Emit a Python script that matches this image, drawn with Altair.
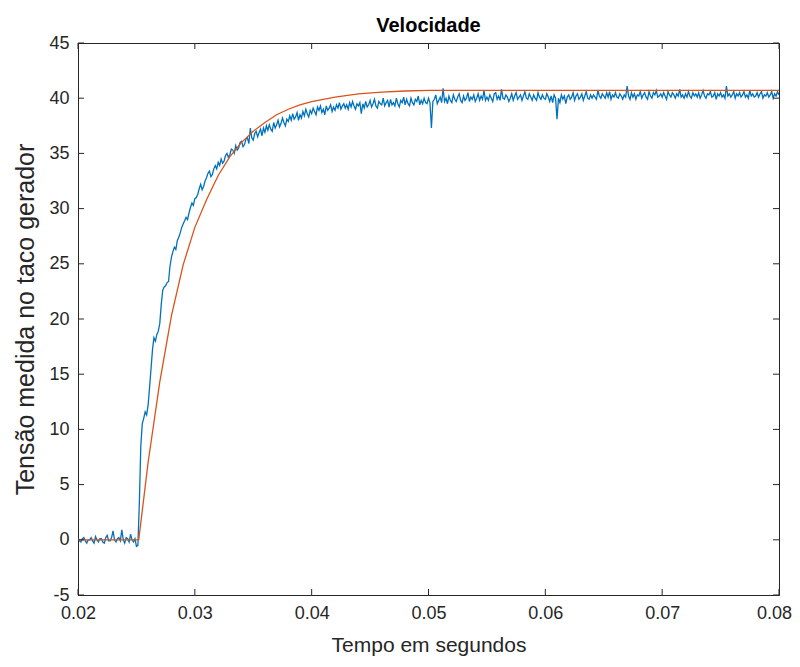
import altair as alt
import pandas as pd

# ---- data ----
t_start = 0.02
t_step = 0.000125
# measured tachogenerator voltage (blue), one value per 0.125 ms, rows = 1 ms
blue_values = [
    0.1, -0.1, -0.2, 0.1, 0.2, -0.1, -0.3, 0.0,          # 0.020
    0.0, 0.2, -0.1, -0.3, 0.3, 0.0, -0.2, 0.1,           # 0.021
    0.1, -0.2, -0.3, 0.2, 0.4, -0.1, -0.1, 0.2,          # 0.022
    0.8, 0.0, -0.2, 0.1, 0.2, -0.1, 0.9, 0.0,            # 0.023
    -0.3, 0.2, 0.1, -0.2, 0.5, 0.0, -0.2, 0.1,           # 0.024
    -0.6, -0.5, 3.3, 8.5, 10.5, 11.0, 11.6, 11.3,        # 0.025
    12.2, 13.8, 15.5, 17.2, 18.3, 18.0, 18.6, 18.9,      # 0.026
    19.6, 21.3, 22.6, 22.9, 23.0, 23.3, 23.4, 24.8,      # 0.027
    25.6, 26.1, 26.5, 26.3, 27.1, 27.4, 27.8, 28.3,      # 0.028
    28.6, 28.9, 29.2, 29.0, 29.6, 30.1, 30.5, 30.3,      # 0.029
    30.9, 31.0, 31.3, 31.8, 32.2, 31.7, 32.0, 32.5,      # 0.030
    32.8, 33.2, 33.4, 32.9, 33.1, 33.6, 33.9, 33.6,      # 0.031
    34.2, 33.9, 34.5, 34.1, 34.3, 34.8, 35.0, 34.6,      # 0.032
    34.9, 35.4, 35.3, 35.0, 35.7, 35.3, 35.5, 36.0,      # 0.033
    36.1, 35.6, 35.8, 36.3, 36.4, 35.9, 37.3, 36.4,      # 0.034
    36.2, 36.8, 37.0, 36.5, 36.9, 37.2, 36.6, 37.3,      # 0.035
    36.9, 37.5, 37.1, 37.6, 37.2, 37.0, 37.8, 37.3,      # 0.036
    37.6, 38.0, 37.4, 37.7, 38.2, 37.8, 37.5, 38.1,      # 0.037
    37.9, 38.4, 38.0, 38.6, 38.1, 38.3, 38.7, 38.0,      # 0.038
    38.5, 38.2, 38.8, 38.4, 39.0, 38.6, 38.3, 38.9,      # 0.039
    38.6, 39.1, 38.8, 38.5, 39.2, 38.9, 39.3, 38.7,      # 0.040
    39.0, 38.5, 39.3, 38.9, 39.1, 39.4, 38.8, 39.2,      # 0.041
    38.9, 39.4, 39.1, 39.6, 39.0, 39.3, 39.5, 39.1,      # 0.042
    39.4, 39.0, 39.6, 39.2, 39.7, 39.3, 39.0, 39.5,      # 0.043
    39.3, 39.6, 38.6, 39.5, 39.1, 39.7, 39.2, 39.4,      # 0.044
    39.8, 39.2, 39.5, 39.9, 39.3, 39.1, 39.7, 39.5,      # 0.045
    39.4, 40.0, 39.3, 39.6, 39.8, 39.2, 39.9, 39.4,      # 0.046
    39.6, 39.3, 40.0, 39.5, 39.2, 39.8, 39.6, 40.1,      # 0.047
    39.4, 39.9, 39.5, 39.3, 40.0, 39.6, 39.4, 39.9,      # 0.048
    39.7, 40.2, 39.4, 39.8, 39.5, 40.0, 39.6, 39.5,      # 0.049
    40.0, 39.6, 37.3, 39.7, 39.9, 40.3, 39.5, 39.8,      # 0.050
    40.1, 39.6, 40.9, 39.7, 40.0, 39.5, 40.2, 39.8,      # 0.051
    39.6, 40.3, 39.9, 39.7, 40.1, 40.4, 39.8, 39.6,      # 0.052
    40.2, 39.8, 40.0, 40.5, 39.7, 40.1, 39.9, 40.3,      # 0.053
    39.7, 40.0, 40.4, 39.8, 40.2, 39.9, 40.7, 39.8,      # 0.054
    40.1, 39.8, 40.3, 40.0, 39.7, 40.4, 40.5, 39.9,      # 0.055
    40.2, 39.8, 40.8, 40.0, 39.9, 40.3, 40.1, 39.7,      # 0.056
    40.0, 40.4, 39.8, 40.2, 40.5, 39.9, 40.1, 40.3,      # 0.057
    39.8, 40.2, 40.6, 40.0, 39.9, 40.4, 40.1, 39.8,      # 0.058
    40.3, 40.0, 39.8, 40.5, 40.1, 39.9, 40.3, 40.0,      # 0.059
    39.9, 40.4, 40.1, 39.7, 40.2, 39.6, 40.3, 40.0,      # 0.060
    38.1, 40.0, 39.6, 40.3, 39.9, 40.2, 39.5, 40.1,      # 0.061
    40.3, 39.9, 40.1, 40.5, 39.8, 40.2, 40.4, 39.9,      # 0.062
    40.1, 40.4, 39.8, 40.2, 40.6, 40.0, 39.9, 40.3,      # 0.063
    40.0, 40.3, 40.1, 39.9, 40.7, 40.2, 40.0, 40.4,      # 0.064
    40.2, 40.0, 40.5, 40.1, 40.6, 39.9, 40.3, 40.1,      # 0.065
    40.5, 40.1, 40.0, 40.4, 40.2, 39.9, 40.3, 40.1,      # 0.066
    41.1, 40.2, 39.9, 40.5, 40.1, 40.4, 39.9, 40.3,      # 0.067
    40.2, 40.6, 40.0, 40.3, 40.5, 40.1, 39.9, 40.6,      # 0.068
    40.2, 40.0, 40.5, 40.3, 40.7, 40.1, 40.2, 40.4,      # 0.069
    40.1, 40.5, 40.2, 39.9, 40.6, 40.3, 40.1, 40.5,      # 0.070
    40.3, 40.0, 40.4, 40.2, 40.8, 40.1, 40.3, 40.0,      # 0.071
    40.4, 40.1, 40.6, 40.2, 40.0, 40.5, 40.2, 40.4,      # 0.072
    40.1, 40.5, 40.0, 40.3, 40.7, 40.2, 40.0, 40.4,      # 0.073
    40.3, 40.6, 40.1, 40.2, 40.5, 39.9, 40.4, 40.2,      # 0.074
    40.5, 40.1, 40.3, 40.0, 41.1, 40.2, 40.4, 40.1,      # 0.075
    40.3, 40.6, 40.0, 40.4, 40.2, 40.5, 40.1, 40.3,      # 0.076
    40.6, 40.1, 40.3, 40.0, 40.7, 40.2, 40.4, 40.1,      # 0.077
    40.2, 40.5, 40.1, 40.4, 40.6, 40.0, 40.3, 40.2,      # 0.078
    40.5, 40.1, 40.3, 40.6, 40.0, 40.4, 40.2, 40.6,      # 0.079
    40.3,                                                # 0.080
]

# model response (orange)
orange_t = [0.0200, 0.0252, 0.0260, 0.0270, 0.0280, 0.0290, 0.0300, 0.0310,
            0.0320, 0.0330, 0.0340, 0.0350, 0.0360, 0.0370, 0.0380, 0.0390,
            0.0400, 0.0420, 0.0440, 0.0460, 0.0480, 0.0500, 0.0600, 0.0700,
            0.0800]
orange_v = [0.0, 0.0, 7.0, 14.3, 20.3, 24.9, 28.3, 30.8,
            33.0, 34.7, 36.0, 37.0, 37.8, 38.5, 39.0, 39.4,
            39.7, 40.1, 40.4, 40.55, 40.65, 40.7, 40.7, 40.7,
            40.7]

x_ticks = [0.02, 0.03, 0.04, 0.05, 0.06, 0.07, 0.08]
y_ticks = [-5, 0, 5, 10, 15, 20, 25, 30, 35, 40, 45]

# ---- tables ----
blue_t = [round(t_start + i * t_step, 6) for i in range(len(blue_values))]
df_blue = pd.DataFrame({"t": blue_t, "v": blue_values})
df_orange = pd.DataFrame({"t": orange_t, "v": orange_v})
df_xt = pd.DataFrame({"t": x_ticks})
df_yt = pd.DataFrame({"v": y_ticks})

W, H = 701, 552
FONT = "Liberation Sans"
AX = "#262626"
TL = 6

xscale = alt.Scale(domain=[0.02, 0.08], nice=False, zero=False)
yscale = alt.Scale(domain=[-5, 45], nice=False, zero=False)

x_axis = alt.Axis(values=x_ticks, format=".2f", title="Tempo em segundos",
                  grid=False, ticks=False, labelPadding=9, titlePadding=12,
                  labelFontSize=18, titleFontSize=21, labelFont=FONT,
                  titleFont=FONT, labelColor=AX, titleColor=AX,
                  titleFontWeight="normal", domainColor=AX,
                  labelFlush=False,
                  labelOffset={"condition": {"test": "datum.value > 0.075",
                                             "value": -5}, "value": 0})
y_axis = alt.Axis(values=y_ticks, format="d",
                  labelExpr="datum.value < 0 ? '-' + abs(datum.value) : datum.label",
                  title="Tensão medida no taco gerador",
                  grid=False, ticks=False, labelPadding=9, titlePadding=10,
                  labelFontSize=18, titleFontSize=25, labelFont=FONT,
                  titleFont=FONT, labelColor=AX, titleColor=AX,
                  titleFontWeight="normal", domainColor=AX,
                  labelFlush=False)

X = alt.X("t:Q", scale=xscale, axis=x_axis)
Y = alt.Y("v:Q", scale=yscale, axis=y_axis)

blue = alt.Chart(df_blue).mark_line(color="#0072BD", strokeWidth=1.3,
                                    clip=True).encode(x=X, y=Y)
orange = alt.Chart(df_orange).mark_line(color="#D95319", strokeWidth=1.3,
                                        clip=True).encode(x=X, y=Y)

tick_style = dict(color=AX, strokeWidth=1)
xt_bottom = alt.Chart(df_xt).mark_rule(**tick_style).encode(
    x=X, y=alt.value(H), y2=alt.value(H - TL))
xt_top = alt.Chart(df_xt).mark_rule(**tick_style).encode(
    x=X, y=alt.value(0), y2=alt.value(TL))
yt_left = alt.Chart(df_yt).mark_rule(**tick_style).encode(
    y=Y, x=alt.value(0), x2=alt.value(TL))
yt_right = alt.Chart(df_yt).mark_rule(**tick_style).encode(
    y=Y, x=alt.value(W - TL), x2=alt.value(W))

chart = alt.layer(blue, orange, xt_bottom, xt_top, yt_left, yt_right).properties(
    width=W, height=H,
    title=alt.TitleParams("Velocidade", fontSize=20, fontWeight="bold",
                          font=FONT, color="#000000", anchor="middle",
                          offset=-2),
    padding={"left": 70, "top": 35, "right": 13, "bottom": 64},
    autosize=alt.AutoSizeParams(type="none"),
    background="#ffffff",
).configure_view(stroke=AX, strokeWidth=1)

chart.save("out.html", embed_options={"renderer": "svg", "actions": False})
